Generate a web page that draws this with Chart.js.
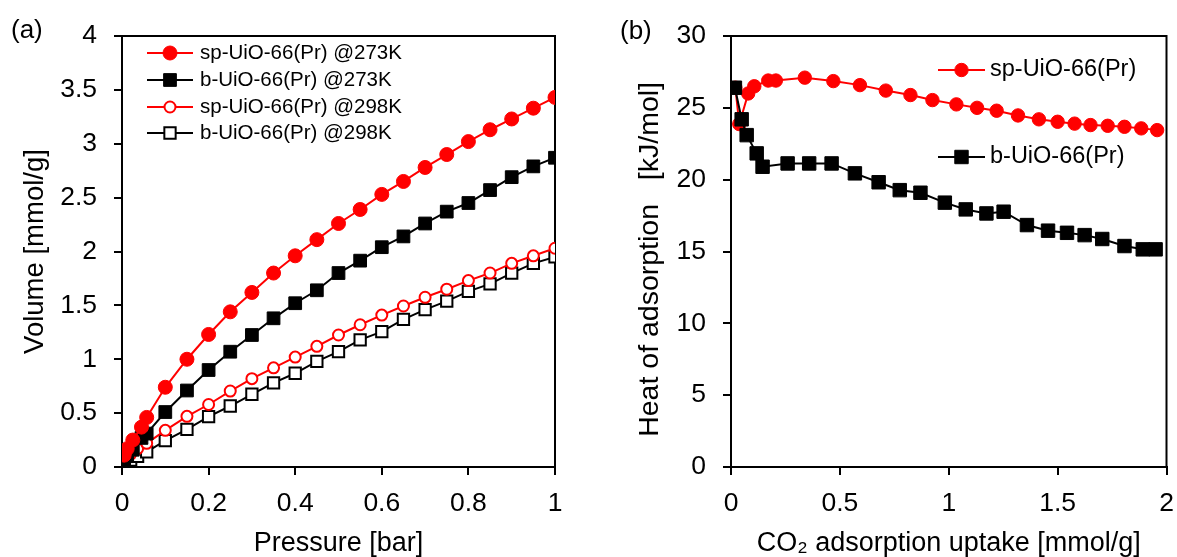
<!DOCTYPE html>
<html>
<head>
<meta charset="utf-8">
<script src="https://cdn.jsdelivr.net/npm/chart.js@4.4.1/dist/chart.umd.min.js"></script>
<style>
  html, body { margin: 0; padding: 0; background: #fff; }
  #wrap { position: relative; width: 1177px; height: 557px; overflow: hidden; background: #fff; }
  canvas { position: absolute; top: 0; }
  #isotherm { left: 0; width: 600px; height: 557px; }
  #heat { left: 600px; width: 577px; height: 557px; }
</style>
</head>
<body>
<div id="wrap">
  <canvas id="isotherm" width="600" height="557"></canvas>
  <canvas id="heat" width="577" height="557"></canvas>
</div>
<script>
// ---- (a) CO2 isotherms: pressure [bar] vs uptake [mmol/g] ----
const pressure273 = [0.005, 0.012, 0.025, 0.045, 0.057, 0.1, 0.15, 0.2, 0.25, 0.3, 0.35, 0.4, 0.45, 0.5, 0.55, 0.6, 0.65, 0.7, 0.75, 0.8, 0.85, 0.9, 0.95, 1.0];
const spUio273 = [0.11, 0.17, 0.25, 0.37, 0.46, 0.74, 1.00, 1.23, 1.44, 1.62, 1.80, 1.96, 2.11, 2.26, 2.39, 2.53, 2.65, 2.78, 2.90, 3.02, 3.13, 3.23, 3.33, 3.43];
const bUio273 = [0.05, 0.10, 0.16, 0.27, 0.31, 0.51, 0.71, 0.90, 1.07, 1.225, 1.38, 1.52, 1.64, 1.80, 1.915, 2.04, 2.14, 2.26, 2.37, 2.45, 2.57, 2.69, 2.79, 2.87];

const pressure298 = [0.005, 0.01, 0.02, 0.036, 0.057, 0.1, 0.15, 0.2, 0.25, 0.3, 0.35, 0.4, 0.45, 0.5, 0.55, 0.6, 0.65, 0.7, 0.75, 0.8, 0.85, 0.9, 0.95, 1.0];
const spUio298 = [0.08, 0.10, 0.12, 0.17, 0.22, 0.34, 0.47, 0.58, 0.705, 0.82, 0.92, 1.02, 1.12, 1.225, 1.32, 1.41, 1.494, 1.575, 1.65, 1.73, 1.80, 1.89, 1.96, 2.03];
const bUio298 = [0.02, 0.04, 0.065, 0.10, 0.14, 0.244, 0.35, 0.467, 0.566, 0.675, 0.78, 0.87, 0.98, 1.07, 1.18, 1.256, 1.37, 1.46, 1.54, 1.63, 1.70, 1.80, 1.89, 1.95];

const pressureTicks = [0, 0.2, 0.4, 0.6, 0.8, 1];
const pressureTickLabels = ['0', '0.2', '0.4', '0.6', '0.8', '1'];
const volumeTicks = [0, 0.5, 1, 1.5, 2, 2.5, 3, 3.5, 4];
const volumeTickLabels = ['0', '0.5', '1', '1.5', '2', '2.5', '3', '3.5', '4'];

// ---- (b) isosteric heat of adsorption vs CO2 uptake ----
const uptakeSp = [0.02, 0.038, 0.079, 0.107, 0.171, 0.206, 0.339, 0.47, 0.592, 0.711, 0.824, 0.925, 1.035, 1.13, 1.22, 1.318, 1.414, 1.50, 1.578, 1.651, 1.73, 1.807, 1.884, 1.957];
const heatSp = [26.4, 23.87, 26.0, 26.5, 26.9, 26.9, 27.1, 26.86, 26.58, 26.2, 25.89, 25.54, 25.24, 25.0, 24.8, 24.47, 24.2, 24.03, 23.9, 23.8, 23.75, 23.68, 23.57, 23.45];
const uptakeB = [0.018, 0.049, 0.072, 0.118, 0.145, 0.26, 0.359, 0.462, 0.569, 0.678, 0.775, 0.87, 0.982, 1.078, 1.173, 1.252, 1.359, 1.456, 1.543, 1.624, 1.705, 1.807, 1.891, 1.95];
const heatB = [26.4, 24.2, 23.1, 21.83, 20.9, 21.13, 21.13, 21.13, 20.44, 19.82, 19.27, 19.09, 18.4, 17.93, 17.65, 17.77, 16.84, 16.45, 16.3, 16.14, 15.87, 15.38, 15.15, 15.15];

const uptakeTicks = [0, 0.5, 1, 1.5, 2];
const uptakeTickLabels = ['0', '0.5', '1', '1.5', '2'];
const heatTicks = [0, 5, 10, 15, 20, 25, 30];
const heatTickLabels = ['0', '5', '10', '15', '20', '25', '30'];

const FONT = "'Liberation Sans', Arial, Helvetica, sans-serif";
const RED = '#ff0000';
const BLACK = '#000000';
Chart.defaults.font.family = FONT;
Chart.defaults.color = BLACK;

const toPoints = (xs, ys) => xs.map((x, i) => ({ x: x, y: ys[i] }));

// linear axis with outward tick marks and a fixed thickness
function axis(dir, min, max, values, labels, title, titleSize, titlePadding, thickness) {
  return {
    type: 'linear',
    min: min,
    max: max,
    afterBuildTicks: s => { s.ticks = values.map(v => ({ value: v })); },
    afterFit: s => {
      if (dir === 'x') { s.height = thickness; s.paddingLeft = 0; s.paddingRight = 0; }
      else { s.width = thickness; s.paddingTop = 0; s.paddingBottom = 0; }
    },
    grid: { drawOnChartArea: false, drawTicks: true, tickLength: 8, color: BLACK, lineWidth: 2 },
    border: { display: true, color: BLACK, width: 2 },
    ticks: {
      autoSkip: false, maxRotation: 0, color: BLACK,
      padding: dir === 'x' ? 13 : 17,
      font: { size: 26.5 },
      callback: (v, i) => labels[i]
    },
    title: { display: true, text: title, color: BLACK, font: { size: titleSize }, padding: titlePadding }
  };
}

// closes the plot box along the top and right edges
const frameBox = {
  id: 'frameBox',
  beforeDatasetsDraw(chart) {
    const { ctx, chartArea: a } = chart;
    ctx.save();
    ctx.strokeStyle = BLACK;
    ctx.lineWidth = 2;
    ctx.beginPath();
    ctx.moveTo(a.left, a.top);
    ctx.lineTo(a.right, a.top);
    ctx.lineTo(a.right, a.bottom);
    ctx.stroke();
    ctx.restore();
  }
};

// series key (line + marker + name) and the panel letter
function seriesKey(entries, keyLayout, panel) {
  return {
    id: 'seriesKey',
    afterDraw(chart) {
      const ctx = chart.ctx;
      ctx.save();
      entries.forEach((ds, i) => {
        const y = keyLayout.y[i];
        ctx.strokeStyle = ds.borderColor;
        ctx.lineWidth = 2;
        ctx.beginPath();
        ctx.moveTo(keyLayout.x1, y);
        ctx.lineTo(keyLayout.x2, y);
        ctx.stroke();
        ctx.fillStyle = ds.pointBackgroundColor;
        ctx.strokeStyle = ds.pointBorderColor;
        ctx.lineWidth = ds.pointBorderWidth;
        Chart.helpers.drawPoint(ctx, {
          pointStyle: ds.pointStyle, radius: ds.pointRadius,
          borderWidth: ds.pointBorderWidth, rotation: 0
        }, (keyLayout.x1 + keyLayout.x2) / 2, y);
        ctx.fillStyle = BLACK;
        ctx.font = keyLayout.fontSize + 'px ' + FONT;
        ctx.textAlign = 'left';
        ctx.textBaseline = 'middle';
        ctx.fillText(ds.label, keyLayout.textX, y);
      });
      ctx.fillStyle = BLACK;
      ctx.font = '26px ' + FONT;
      ctx.textAlign = 'left';
      ctx.textBaseline = 'middle';
      ctx.fillText(panel.text, panel.x, panel.y);
      ctx.restore();
    }
  };
}

function series(label, xs, ys, color, style, radius, hollow) {
  return {
    label: label,
    data: toPoints(xs, ys),
    borderColor: color,
    backgroundColor: color,
    borderWidth: 2,
    tension: 0,
    pointStyle: style,
    pointRadius: radius,
    pointBorderWidth: hollow ? 2 : 1,
    pointBackgroundColor: hollow ? '#ffffff' : color,
    pointBorderColor: color,
    pointHoverRadius: radius
  };
}

// ---- panel (a) ----
const isoSets = [
  series('sp-UiO-66(Pr) @273K', pressure273, spUio273, RED, 'circle', 7, false),
  series('b-UiO-66(Pr) @273K', pressure273, bUio273, BLACK, 'rect', 9, false),
  series('sp-UiO-66(Pr) @298K', pressure298, spUio298, RED, 'circle', 5.5, true),
  series('b-UiO-66(Pr) @298K', pressure298, bUio298, BLACK, 'rect', 8, true)
];

new Chart(document.getElementById('isotherm'), {
  type: 'line',
  data: { datasets: isoSets },
  options: {
    responsive: false,
    animation: false,
    events: [],
    layout: { padding: { left: 0, right: 45, top: 36, bottom: 0 } },
    plugins: { legend: { display: false }, tooltip: { enabled: false } },
    scales: {
      x: axis('x', 0, 1, pressureTicks, pressureTickLabels, 'Pressure [bar]', 27, { top: 0, bottom: -3 }, 90),
      y: axis('y', 0, 4, volumeTicks, volumeTickLabels, 'Volume [mmol/g]', 27.5, { top: 19, bottom: 0 }, 122)
    }
  },
  plugins: [frameBox, seriesKey(isoSets,
    { x1: 147, x2: 193, textX: 200, fontSize: 20.5, y: [53, 80, 107, 133] },
    { text: '(a)', x: 11, y: 31 })]
});

// ---- panel (b) ----
const heatSets = [
  series('b-UiO-66(Pr)', uptakeB, heatB, BLACK, 'rect', 9.5, false),
  series('sp-UiO-66(Pr)', uptakeSp, heatSp, RED, 'circle', 6.7, false)
];

new Chart(document.getElementById('heat'), {
  type: 'line',
  data: { datasets: heatSets },
  options: {
    responsive: false,
    animation: false,
    events: [],
    layout: { padding: { left: 0, right: 10, top: 36, bottom: 0 } },
    plugins: { legend: { display: false }, tooltip: { enabled: false } },
    scales: {
      x: axis('x', 0, 2, uptakeTicks, uptakeTickLabels, 'CO\u2082 adsorption uptake [mmol/g]', 27, { top: 0, bottom: -3 }, 90),
      y: axis('y', 0, 30, heatTicks, heatTickLabels, 'Heat of adsorption   [kJ/mol]  ', 28.5, { top: 33, bottom: 0 }, 131)
    }
  },
  plugins: [frameBox, seriesKey([heatSets[1], heatSets[0]],
    { x1: 338, x2: 385, textX: 390, fontSize: 23.5, y: [70, 157] },
    { text: '(b)', x: 20, y: 32 })]
});
</script>
</body>
</html>
